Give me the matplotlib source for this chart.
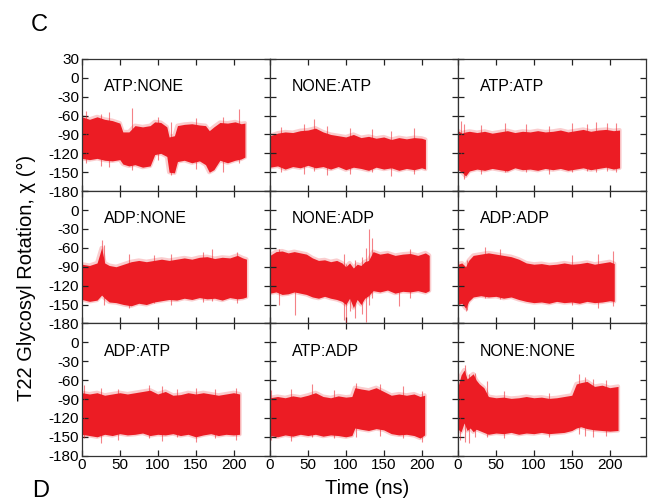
import matplotlib
matplotlib.use("Agg")
import matplotlib.pyplot as plt

plt.rcParams['font.family'] = ['Liberation Sans', 'DejaVu Sans']

RED = "#EC1C24"

# panel labels, row by row
names = ["ATP:NONE", "NONE:ATP", "ATP:ATP",
         "ADP:NONE", "NONE:ADP", "ADP:ADP",
         "ADP:ATP", "ATP:ADP", "NONE:NONE"]

# band edges (deg) of the chi trace
t_atp_none = [0, 10, 20, 30, 40, 50, 54, 62, 70, 80, 90, 96, 104, 112, 115, 122, 126, 135, 145, 155, 163, 168, 174, 182, 192, 202, 210, 215]
hi_atp_none = [-62, -66, -62, -66, -68, -72, -86, -86, -76, -78, -76, -70, -71, -78, -94, -92, -76, -74, -73, -75, -76, -84, -78, -71, -72, -70, -73, -72]
lo_atp_none = [-128, -130, -128, -131, -132, -130, -137, -140, -138, -142, -140, -122, -120, -125, -150, -151, -133, -131, -135, -132, -138, -150, -146, -131, -135, -131, -129, -126]

t_none_atp = [0, 10, 20, 30, 40, 50, 60, 70, 80, 90, 100, 110, 120, 130, 140, 150, 160, 170, 180, 190, 200, 205]
hi_none_atp = [-92, -88, -86, -87, -84, -83, -80, -86, -90, -92, -94, -90, -95, -93, -96, -94, -98, -95, -97, -95, -96, -98]
lo_none_atp = [-142, -140, -145, -141, -143, -139, -143, -141, -145, -141, -146, -142, -144, -147, -142, -145, -143, -147, -144, -146, -143, -145]

t_atp_atp = [0, 5, 10, 15, 25, 35, 45, 55, 65, 75, 85, 95, 105, 115, 125, 135, 145, 155, 165, 175, 185, 195, 205, 213]
hi_atp_atp = [-84, -88, -86, -85, -87, -85, -88, -86, -84, -87, -85, -86, -84, -86, -85, -83, -86, -84, -82, -85, -83, -82, -84, -83]
lo_atp_atp = [-146, -150, -156, -148, -145, -147, -144, -146, -148, -143, -146, -145, -147, -144, -146, -144, -147, -145, -143, -146, -144, -142, -145, -143]

t_adp_none = [0, 10, 20, 26, 30, 36, 45, 55, 65, 75, 85, 95, 105, 115, 125, 135, 145, 155, 165, 175, 185, 195, 205, 212, 217]
hi_adp_none = [-86, -88, -84, -60, -84, -88, -90, -86, -82, -80, -82, -80, -78, -80, -78, -76, -78, -75, -74, -77, -75, -76, -72, -76, -78]
lo_adp_none = [-142, -145, -143, -135, -140, -146, -147, -150, -152, -148, -150, -146, -144, -142, -143, -140, -142, -139, -141, -140, -143, -139, -141, -140, -138]

t_none_adp = [0, 8, 16, 24, 32, 40, 48, 56, 64, 72, 80, 88, 95, 100, 105, 110, 115, 120, 125, 130, 136, 145, 155, 165, 175, 185, 195, 205, 210]
hi_none_adp = [-72, -66, -65, -68, -66, -68, -70, -76, -80, -79, -82, -80, -84, -90, -84, -92, -86, -88, -82, -80, -66, -70, -68, -72, -70, -69, -72, -68, -72]
lo_none_adp = [-132, -130, -134, -133, -130, -132, -134, -138, -140, -137, -140, -142, -145, -150, -140, -155, -142, -150, -140, -136, -128, -130, -127, -132, -129, -130, -128, -131, -128]

t_adp_adp = [0, 5, 10, 14, 20, 30, 40, 50, 60, 70, 80, 90, 100, 110, 120, 130, 140, 150, 160, 170, 180, 190, 200, 206]
hi_adp_adp = [-86, -84, -90, -80, -72, -70, -68, -70, -72, -74, -78, -84, -86, -85, -87, -86, -84, -86, -85, -83, -86, -84, -82, -85]
lo_adp_adp = [-150, -148, -156, -145, -138, -136, -138, -137, -140, -138, -142, -145, -147, -146, -148, -145, -147, -146, -148, -145, -147, -146, -144, -145]

t_adp_atp = [0, 10, 20, 30, 40, 50, 60, 70, 80, 90, 100, 110, 120, 130, 140, 150, 160, 170, 180, 190, 200, 208]
hi_adp_atp = [-80, -82, -80, -84, -82, -80, -82, -80, -78, -76, -82, -78, -84, -83, -80, -82, -80, -82, -84, -82, -80, -82]
lo_adp_atp = [-146, -148, -150, -146, -148, -145, -147, -146, -144, -148, -146, -147, -145, -148, -146, -150, -147, -145, -148, -146, -147, -146]

t_atp_adp = [0, 10, 20, 30, 40, 50, 60, 70, 80, 90, 100, 108, 112, 120, 130, 140, 150, 160, 170, 180, 190, 198, 204]
hi_atp_adp = [-88, -86, -88, -85, -87, -84, -80, -86, -88, -85, -87, -86, -72, -74, -76, -72, -78, -84, -82, -84, -82, -86, -84]
lo_atp_adp = [-148, -150, -147, -149, -146, -148, -146, -149, -147, -148, -150, -148, -136, -138, -140, -137, -139, -145, -147, -146, -148, -152, -147]

t_none_none = [0, 4, 8, 12, 16, 20, 24, 28, 34, 40, 50, 60, 70, 80, 90, 100, 110, 120, 130, 140, 150, 156, 162, 170, 180, 190, 200, 211]
hi_none_none = [-70, -52, -44, -58, -54, -50, -60, -66, -72, -86, -88, -87, -89, -88, -86, -88, -87, -89, -88, -86, -84, -66, -64, -62, -70, -68, -72, -70]
lo_none_none = [-138, -142, -128, -140, -136, -142, -138, -140, -143, -146, -144, -145, -143, -146, -144, -145, -143, -145, -144, -143, -140, -136, -134, -137, -139, -140, -141, -140]

# short excursions (time, low end, high end)
sp_t_atp_none = [5, 25, 36, 66, 100, 118, 150, 186, 207]
sp_hi_atp_none = [-52, -58, -54, -48, -62, -70, -64, -62, -50]
sp_lo_atp_none = [-135, -140, -142, -146, -130, -155, -145, -150, -135]

sp_t_none_atp = [15, 45, 58, 75, 105, 135, 160, 190]
sp_hi_none_atp = [-78, -74, -66, -76, -80, -82, -84, -80]
sp_lo_none_atp = [-150, -152, -148, -155, -152, -150, -156, -153]

sp_t_atp_atp = [4, 8, 30, 62, 90, 120, 150, 170, 182, 196, 208]
sp_hi_atp_atp = [-68, -74, -75, -72, -74, -76, -72, -74, -70, -72, -72]
sp_lo_atp_atp = [-150, -160, -152, -150, -150, -152, -150, -148, -150, -148, -150]

sp_t_adp_none = [27, 29, 62, 95, 118, 160, 172, 204]
sp_hi_adp_none = [-48, -55, -70, -72, -70, -66, -62, -66]
sp_lo_adp_none = [-125, -150, -155, -148, -150, -146, -145, -148]

sp_t_none_adp = [12, 33, 97, 100, 106, 112, 122, 126, 131, 134, 170, 185]
sp_hi_none_adp = [-62, -80, -70, -85, -90, -80, -75, -60, -30, -45, -80, -62]
sp_lo_none_adp = [-150, -166, -175, -180, -160, -172, -165, -178, -150, -140, -152, -140]

sp_t_adp_adp = [10, 12, 35, 55, 150, 185, 204]
sp_hi_adp_adp = [-95, -80, -58, -62, -72, -70, -65]
sp_lo_adp_adp = [-160, -158, -140, -142, -150, -155, -152]

sp_t_adp_atp = [3, 25, 48, 88, 105, 125, 150, 175, 203]
sp_hi_adp_atp = [-68, -72, -74, -68, -70, -74, -72, -74, -72]
sp_lo_adp_atp = [-152, -160, -155, -152, -156, -150, -158, -152, -155]

sp_t_atp_adp = [2, 28, 56, 85, 113, 145, 175, 200]
sp_hi_atp_adp = [-76, -74, -66, -76, -64, -66, -70, -78]
sp_lo_atp_adp = [-155, -156, -150, -152, -150, -148, -152, -158]

sp_t_none_none = [2, 9, 14, 22, 38, 60, 120, 160, 168, 178, 195]
sp_hi_none_none = [-80, -36, -50, -48, -62, -78, -80, -50, -55, -58, -60]
sp_lo_none_none = [-155, -158, -160, -150, -150, -152, -150, -145, -148, -150, -148]

bands = [
    (t_atp_none, lo_atp_none, hi_atp_none, sp_t_atp_none, sp_lo_atp_none, sp_hi_atp_none),
    (t_none_atp, lo_none_atp, hi_none_atp, sp_t_none_atp, sp_lo_none_atp, sp_hi_none_atp),
    (t_atp_atp, lo_atp_atp, hi_atp_atp, sp_t_atp_atp, sp_lo_atp_atp, sp_hi_atp_atp),
    (t_adp_none, lo_adp_none, hi_adp_none, sp_t_adp_none, sp_lo_adp_none, sp_hi_adp_none),
    (t_none_adp, lo_none_adp, hi_none_adp, sp_t_none_adp, sp_lo_none_adp, sp_hi_none_adp),
    (t_adp_adp, lo_adp_adp, hi_adp_adp, sp_t_adp_adp, sp_lo_adp_adp, sp_hi_adp_adp),
    (t_adp_atp, lo_adp_atp, hi_adp_atp, sp_t_adp_atp, sp_lo_adp_atp, sp_hi_adp_atp),
    (t_atp_adp, lo_atp_adp, hi_atp_adp, sp_t_atp_adp, sp_lo_atp_adp, sp_hi_atp_adp),
    (t_none_none, lo_none_none, hi_none_none, sp_t_none_none, sp_lo_none_none, sp_hi_none_none),
]

x_ticks = [0, 50, 100, 150, 200]
y_ticks = [30, 0, -30, -60, -90, -120, -150, -180]

fig, axes = plt.subplots(3, 3, figsize=(6.5, 5.03), dpi=100)
fig.subplots_adjust(left=0.126, right=0.994, top=0.883, bottom=0.094, hspace=0, wspace=0)

for k, ax in enumerate(axes.flat):
    r, c = divmod(k, 3)
    t, lo, hi, st, slo, shi = bands[k]
    # soft halo, then dense core, then short excursions
    ax.fill_between(t, lo, hi, facecolor="none", edgecolor=RED, lw=3, alpha=0.22)
    ax.fill_between(t, lo, hi, color=RED, lw=0)
    ax.vlines(st, slo, shi, color=RED, lw=0.8, alpha=0.55)

    ax.set_xlim(0, 248)
    ax.set_ylim(-180, 30)
    ax.set_xticks(x_ticks)
    ax.set_yticks(y_ticks)
    ax.tick_params(direction="in", top=True, right=True, length=4.5, width=0.9,
                   labelsize=11, pad=2, colors="#222222", labelcolor="black")
    for s in ax.spines.values():
        s.set_linewidth(0.9)
        s.set_color("#333333")
    if c == 0:
        labs = [str(v) for v in y_ticks]
        if r > 0:
            labs[0] = ""
        ax.set_yticklabels(labs)
    else:
        ax.set_yticklabels([])
    if r == 2:
        ax.set_xticklabels([str(v) for v in x_ticks])
    else:
        ax.set_xticklabels([])
    ax.text(0.115, 0.79, names[k], transform=ax.transAxes, fontsize=11.5,
            va="center", ha="left")

fig.text(0.04, 0.447, "T22 Glycosyl Rotation, \u03c7 (\u00b0)", rotation=90,
         fontsize=14.5, ha="center", va="center")
fig.text(0.565, 0.028, "Time (ns)", fontsize=14.5, ha="center", va="center")
fig.text(0.047, 0.95, "C", fontsize=17, ha="left", va="center")
fig.text(0.05, 0.002, "D", fontsize=17, ha="left", va="bottom")

fig.savefig("out.png", dpi=100)
